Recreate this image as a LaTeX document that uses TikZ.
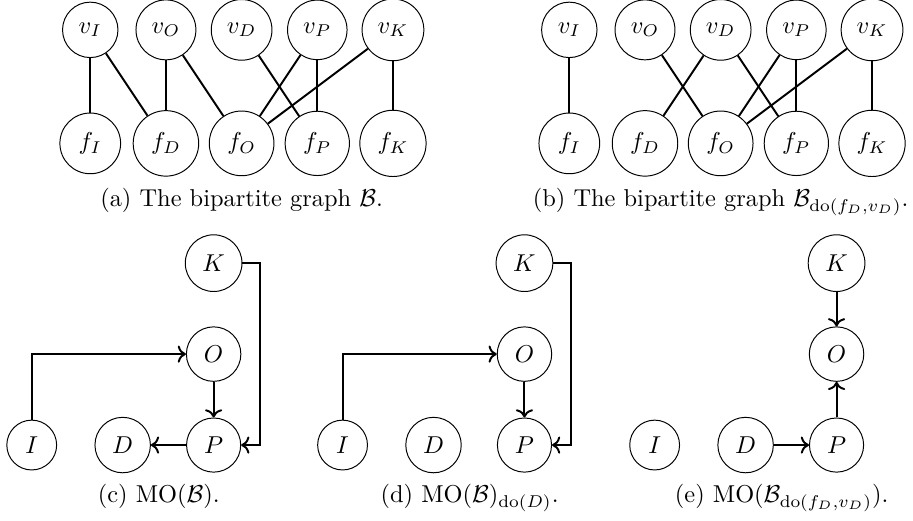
\documentclass[tikz,border=0pt]{standalone}
\usepackage{amsmath, amssymb}
\usetikzlibrary{positioning, arrows.meta}

\begin{document}
\begin{tikzpicture}[
    node distance=1.09cm, on grid,
    var/.style={draw, circle, inner sep=4.2pt},
    link/.style={thick},
    arrow/.style={->, thick},
    subcap/.style={anchor=base, inner sep=0pt}
]
\useasboundingbox (0,0) rectangle (13.15,-7.49);

% (a) the bipartite graph
\node[var] (avI) at (1.30,-0.43) {$v_I$};
\node[var, right=of avI] (avO) {$v_O$};
\node[var, right=of avO] (avD) {$v_D$};
\node[var, right=of avD] (avP) {$v_P$};
\node[var, right=of avP] (avK) {$v_K$};
\node[var, below=1.635cm of avI] (afI) {$f_I$};
\node[var, right=of afI] (afD) {$f_D$};
\node[var, right=of afD] (afO) {$f_O$};
\node[var, right=of afO] (afP) {$f_P$};
\node[var, right=of afP] (afK) {$f_K$};

\draw[link] (avI) -- (afI);
\draw[link] (avI) -- (afD);
\draw[link] (avO) -- (afD);
\draw[link] (avO) -- (afO);
\draw[link] (avD) -- (afP);
\draw[link] (avP) -- (afO);
\draw[link] (avP) -- (afP);
\draw[link] (avK) -- (afO);
\draw[link] (avK) -- (afK);

\node[below=0.915cm of afO, subcap] (capa) {(a) The bipartite graph $\mathcal{B}$.};

% (b) after do(f_D, v_D)
\node[var] (bvI) at (8.20,-0.43) {$v_I$};
\node[var, right=of bvI] (bvO) {$v_O$};
\node[var, right=of bvO] (bvD) {$v_D$};
\node[var, right=of bvD] (bvP) {$v_P$};
\node[var, right=of bvP] (bvK) {$v_K$};
\node[var, below=1.635cm of bvI] (bfI) {$f_I$};
\node[var, right=of bfI] (bfD) {$f_D$};
\node[var, right=of bfD] (bfO) {$f_O$};
\node[var, right=of bfO] (bfP) {$f_P$};
\node[var, right=of bfP] (bfK) {$f_K$};

\draw[link] (bvI) -- (bfI);
\draw[link] (bvO) -- (bfO);
\draw[link] (bvD) -- (bfD);
\draw[link] (bvD) -- (bfP);
\draw[link] (bvP) -- (bfO);
\draw[link] (bvP) -- (bfP);
\draw[link] (bvK) -- (bfO);
\draw[link] (bvK) -- (bfK);

\node[below=0.915cm of bfO, subcap] (capb) {(b) The bipartite graph $\mathcal{B}_{\mathrm{do}(f_D,v_D)}$.};

% (c) MO(B)
\node[var] (cI) at (0.457,-6.41) {$I$};
\node[var, right=1.31cm of cI] (cD) {$D$};
\node[var, right=1.31cm of cD] (cP) {$P$};
\node[var, above=1.31cm of cP] (cO) {$O$};
\node[var, above=1.31cm of cO] (cK) {$K$};

\draw[arrow] (cI) |- (cO);
\draw[arrow] (cO) -- (cP);
\draw[arrow] (cK.east) -- ++(0.255,0) |- (cP);
\draw[arrow] (cP) -- (cD);

\node[below=0.83cm of cD, xshift=0.52cm, subcap] (capc) {(c) $\mathrm{MO}(\mathcal{B})$.};

% (d) MO(B) after do(D)
\node[var] (dI) at (4.934,-6.41) {$I$};
\node[var, right=1.31cm of dI] (dD) {$D$};
\node[var, right=1.31cm of dD] (dP) {$P$};
\node[var, above=1.31cm of dP] (dO) {$O$};
\node[var, above=1.31cm of dO] (dK) {$K$};

\draw[arrow] (dI) |- (dO);
\draw[arrow] (dO) -- (dP);
\draw[arrow] (dK.east) -- ++(0.255,0) |- (dP);

\node[below=0.83cm of dD, xshift=0.52cm, subcap] (capd) {(d) $\mathrm{MO}(\mathcal{B})_{\mathrm{do}(D)}$.};

% (e) MO of the intervened graph
\node[var] (eI) at (9.429,-6.41) {$I$};
\node[var, right=1.31cm of eI] (eD) {$D$};
\node[var, right=1.31cm of eD] (eP) {$P$};
\node[var, above=1.31cm of eP] (eO) {$O$};
\node[var, above=1.31cm of eO] (eK) {$K$};

\draw[arrow] (eK) -- (eO);
\draw[arrow] (eP) -- (eO);
\draw[arrow] (eD) -- (eP);

\node[below=0.83cm of eD, xshift=0.52cm, subcap] (cape) {(e) $\mathrm{MO}(\mathcal{B}_{\mathrm{do}(f_D,v_D)})$.};

\end{tikzpicture}
\end{document}
